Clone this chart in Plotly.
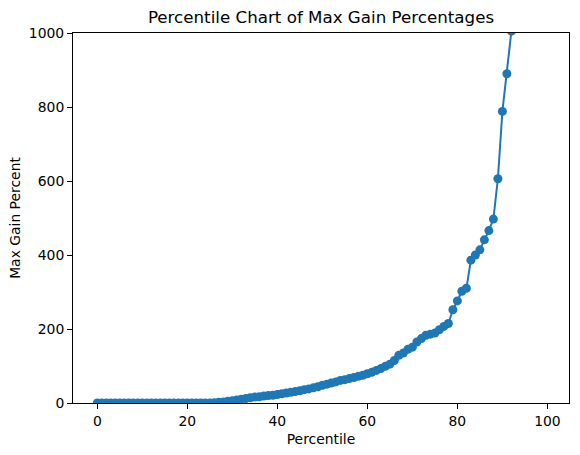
import plotly.graph_objects as go

# Percentiles 0..100 and the max gain value at each one
percentiles = list(range(0, 101))
max_gain = [
    0, 0, 0, 0, 0, 0, 0, 0, 0, 0,
    0, 0, 0, 0, 0, 0, 0, 0, 0, 0,
    0, 0, 0, 0, 0, 0, 1, 2, 3, 5,
    6, 8, 10, 12, 14, 16, 17, 19, 20, 21,
    23, 25, 27, 29, 31, 33, 36, 38, 41, 44,
    48, 51, 54, 57, 61, 63, 66, 69, 72, 75,
    79, 83, 88, 93, 99, 105, 115, 129, 135, 145,
    151, 165, 174, 183, 186, 189, 198, 207, 215, 252,
    276, 302, 310, 386, 400, 414, 441, 466, 497, 606,
    788, 890, 1005, 1150, 1320, 1500, 1750, 2100, 2600, 3400,
    5000,
]

y_ticks = [0, 200, 400, 600, 800, 1000]
x_ticks = [0, 20, 40, 60, 80, 100]

font = "DejaVu Sans"
blue = "#1f77b4"

fig = go.Figure()
fig.add_trace(go.Scatter(
    x=percentiles,
    y=max_gain,
    mode="lines+markers",
    line=dict(color=blue, width=2),
    marker=dict(color=blue, size=9),
))

axis_style = dict(
    showline=True,
    linecolor="black",
    linewidth=1,
    mirror=True,
    ticks="outside",
    ticklen=5,
    tickwidth=1,
    tickcolor="black",
    showgrid=False,
    zeroline=False,
    tickfont=dict(family=font, size=13.9, color="black"),
)

fig.update_layout(
    width=580,
    height=455,
    margin=dict(l=73, r=11, t=33, b=52),
    paper_bgcolor="white",
    plot_bgcolor="white",
    showlegend=False,
    title=dict(
        text="Percentile Chart of Max Gain Percentages",
        font=dict(family=font, size=16.7, color="black"),
        x=0.5, xref="paper", xanchor="center",
        y=1 - 17 / 455, yref="container", yanchor="middle",
    ),
)

fig.update_xaxes(
    range=[-5.4, 104.8],
    tickvals=x_ticks,
    title=dict(text="Percentile", font=dict(family=font, size=13.9, color="black"), standoff=6),
    **axis_style,
)
fig.update_yaxes(
    range=[0, 1000],
    tickvals=y_ticks,
    title=dict(text="Max Gain Percent", font=dict(family=font, size=13.9, color="black"), standoff=4),
    **axis_style,
)

# drop the browser's default page margin so the figure sits at the window's corner
fig.write_html(
    "out.html",
    config={"displayModeBar": False},
    post_script="document.body.style.margin='0';",
)
